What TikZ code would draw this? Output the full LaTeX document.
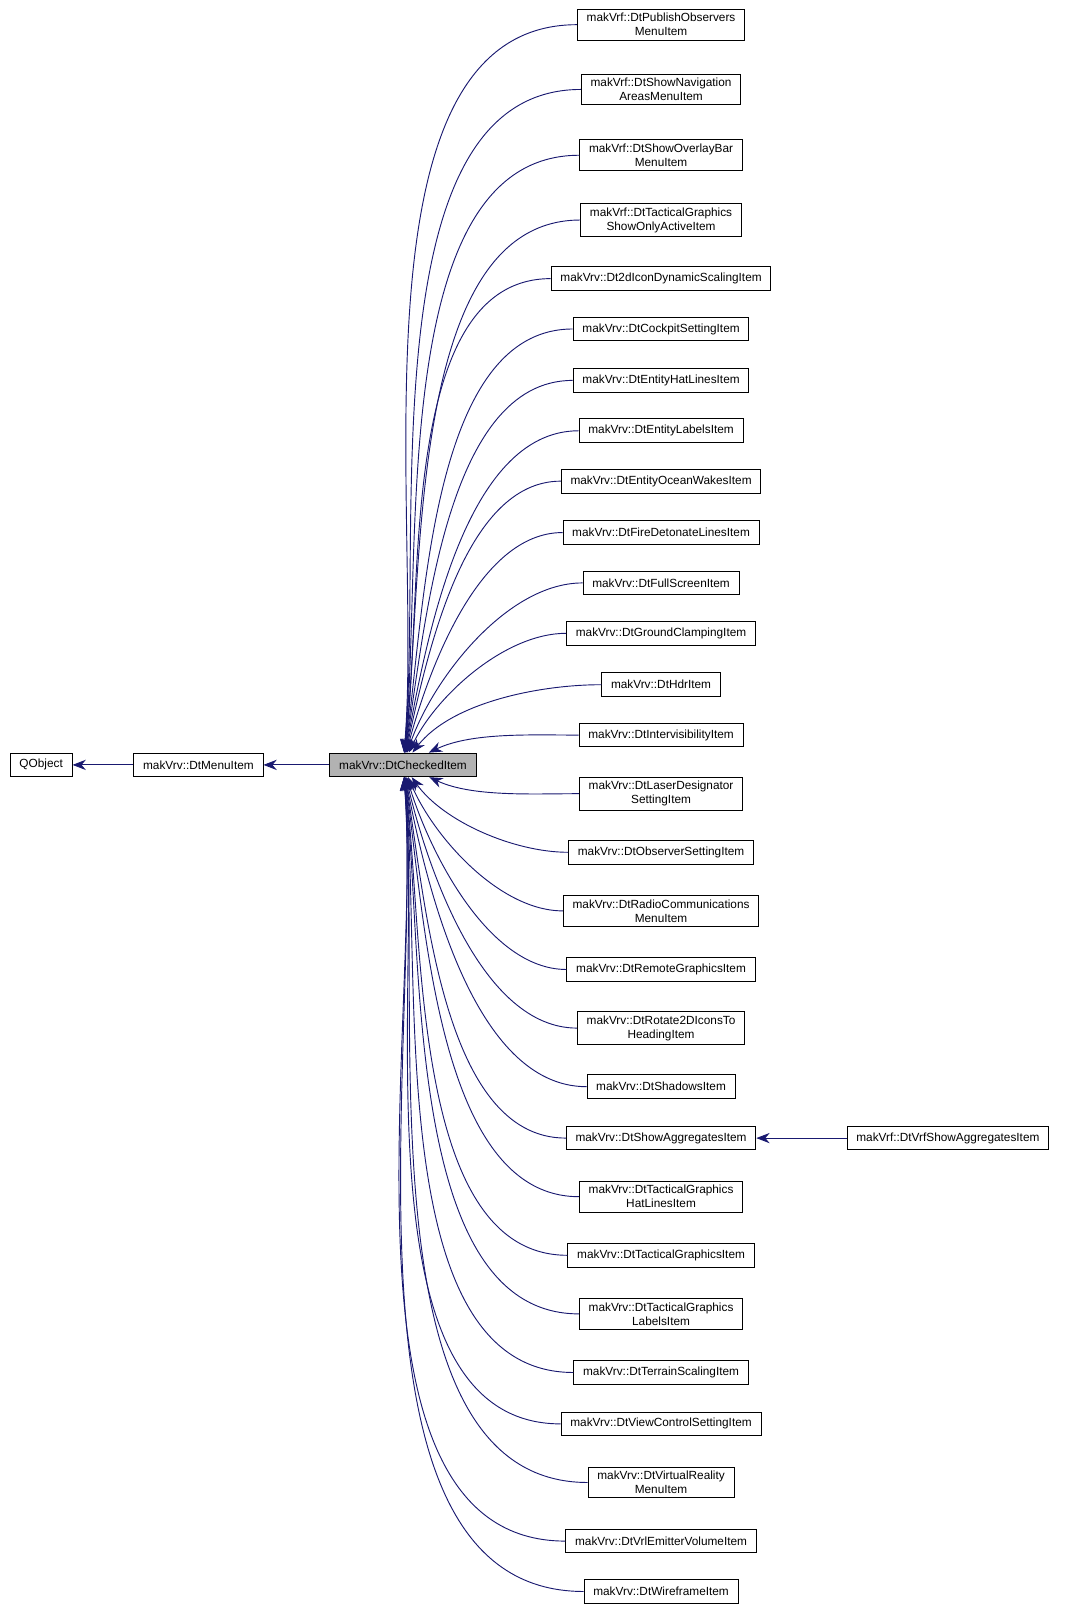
\documentclass[tikz,border=0pt]{standalone}
\usepackage{fontspec}
\setmainfont{Liberation Sans}
\usetikzlibrary{arrows.meta}
\definecolor{edgeblue}{HTML}{191970}
\begin{document}
\begin{tikzpicture}[x=1pt, y=1pt,
  nodes={draw, line width=0.9pt, font=\fontsize{11.5}{13.5}\selectfont, align=center,
    inner xsep=9pt, inner ysep=4pt, minimum height=23pt},
  grey/.style={fill=black!30},
  edge/.style={draw=edgeblue, line width=0.9pt, {Stealth[length=13pt,width=10pt]}-}
  ]
  \useasboundingbox (0,0) rectangle (1040,-1567);
  \node (qobj) at (40,-744) {QObject};
  \node (menu) at (193,-744) {makVrv::DtMenuItem};
  \node (chk) [grey] at (392,-744) {makVrv::DtCheckedItem};
  \draw[edge] (qobj) -- (menu);
  \draw[edge] (menu) -- (chk);
  \foreach \y/\txt [count=\i] in {
    24/{makVrf::DtPublishObservers\\MenuItem},
    87/{makVrf::DtShowNavigation\\AreasMenuItem},
    151/{makVrf::DtShowOverlayBar\\MenuItem},
    214/{makVrf::DtTacticalGraphics\\ShowOnlyActiveItem},
    271/{makVrv::Dt2dIconDynamicScalingItem},
    320/{makVrv::DtCockpitSettingItem},
    370/{makVrv::DtEntityHatLinesItem},
    419/{makVrv::DtEntityLabelsItem},
    468/{makVrv::DtEntityOceanWakesItem},
    518/{makVrv::DtFireDetonateLinesItem},
    567/{makVrv::DtFullScreenItem},
    616/{makVrv::DtGroundClampingItem},
    666/{makVrv::DtHdrItem},
    715/{makVrv::DtIntervisibilityItem},
    772/{makVrv::DtLaserDesignator\\SettingItem},
    829/{makVrv::DtObserverSettingItem},
    886/{makVrv::DtRadioCommunications\\MenuItem},
    943/{makVrv::DtRemoteGraphicsItem},
    1000/{makVrv::DtRotate2DIconsTo\\HeadingItem},
    1057/{makVrv::DtShadowsItem},
    1107/{makVrv::DtShowAggregatesItem},
    1164/{makVrv::DtTacticalGraphics\\HatLinesItem},
    1221/{makVrv::DtTacticalGraphicsItem},
    1278/{makVrv::DtTacticalGraphics\\LabelsItem},
    1335/{makVrv::DtTerrainScalingItem},
    1385/{makVrv::DtViewControlSettingItem},
    1442/{makVrv::DtVirtualReality\\MenuItem},
    1499/{makVrv::DtVrlEmitterVolumeItem},
    1548/{makVrv::DtWireframeItem}} {
    \node (item\i) at (643,-\y) {\txt};
    \pgfmathsetmacro\a{atan2(744-\y,60)}
    \draw[edge] (chk) to[out=\a, in=180, looseness=0.8] (item\i.west);
  }
  \node (vrfagg) at (922,-1107) {makVrf::DtVrfShowAggregatesItem};
  \draw[edge] (item21) -- (vrfagg);
\end{tikzpicture}
\end{document}
